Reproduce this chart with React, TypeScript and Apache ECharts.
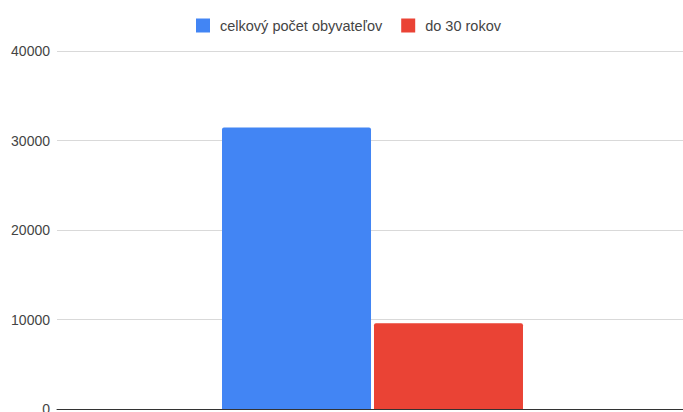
import React, { useEffect, useRef } from "react";
import * as echarts from "echarts";

const categories = [""];
const seriesNames = ["celkový počet obyvateľov", "do 30 rokov"];
const totalPopulation = [31450];
const under30 = [9580];
const yTicks = [0, 10000, 20000, 30000, 40000];

export default function App() {
  const ref = useRef<HTMLDivElement>(null);
  useEffect(() => {
    if (!ref.current) return;
    const chart = echarts.init(ref.current, undefined, { renderer: "svg" });
    chart.setOption({
      animation: false,
      backgroundColor: "#ffffff",
      textStyle: { fontFamily: "Arial, 'Liberation Sans', sans-serif" },
      legend: {
        top: 13,
        left: 191,
        itemWidth: 14,
        itemHeight: 14,
        itemGap: 19,
        icon: "rect",
        textStyle: { fontSize: 14.5, color: "#444", padding: [0, 0, 0, 5] },
        data: seriesNames,
      },
      grid: {
        left: 57,
        right: -5,
        top: 51,
        bottom: 3,
        containLabel: false,
        outerBoundsMode: "none",
      },
      xAxis: {
        type: "category",
        data: categories,
        axisLine: { lineStyle: { color: "#333", width: 1 } },
        axisTick: { show: false },
        axisLabel: { show: false },
      },
      yAxis: {
        type: "value",
        min: yTicks[0],
        max: yTicks[yTicks.length - 1],
        interval: 10000,
        axisLine: { show: false },
        axisTick: { show: false },
        axisLabel: {
          fontSize: 14,
          color: "#444",
          margin: 7,
          formatter: (v: number) => String(v),
        },
        splitLine: { lineStyle: { color: "#d9d9d9", width: 1 } },
      },
      series: [
        {
          name: seriesNames[0],
          type: "bar",
          data: totalPopulation,
          itemStyle: { color: "#4285F4", borderRadius: [2, 2, 0, 0] },
          barWidth: 149,
          barGap: "2%",
        },
        {
          name: seriesNames[1],
          type: "bar",
          data: under30,
          itemStyle: { color: "#EA4335", borderRadius: [2, 2, 0, 0] },
          barWidth: 149,
          barGap: "2%",
        },
      ],
    });
    return () => chart.dispose();
  }, []);
  return <div ref={ref} style={{ width: 683, height: 412, position: "fixed", left: 0, top: 0 }} />;
}
